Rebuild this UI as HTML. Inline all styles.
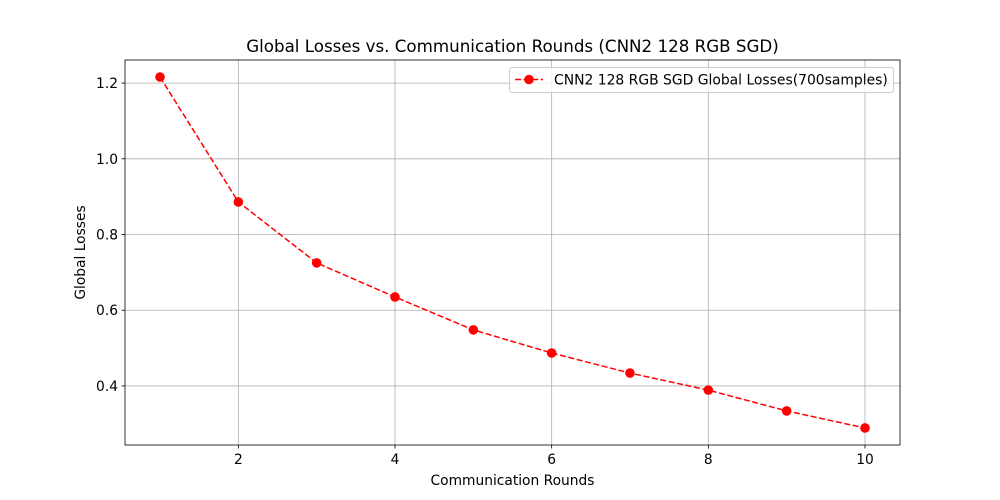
<!DOCTYPE html>
<html><head><meta charset="utf-8"><style>
body{margin:0;background:#fff;}
svg{display:block;font-family:"DejaVu Sans","Liberation Sans",sans-serif;}
</style></head><body>
<svg id="chart" width="1000" height="500" viewBox="0 0 1000 500">
<rect width="1000" height="500" fill="#fff"/>
<g id="grid"></g>
<g id="axes"></g>
<g id="series"></g>
<text x="512.5" y="52" text-anchor="middle" font-size="16.7">Global Losses vs. Communication Rounds (CNN2 128 RGB SGD)</text>
<text x="512.5" y="485" text-anchor="middle" font-size="13.8">Communication Rounds</text>
<text transform="translate(85,252.5) rotate(-90)" text-anchor="middle" font-size="13.8">Global Losses</text>
<g>
<rect x="509.5" y="67.5" width="384" height="25" rx="3" fill="#fff" fill-opacity="0.8" stroke="#ccc"/>
<line x1="515" y1="79.5" x2="543" y2="79.5" stroke="red" stroke-width="1.5" stroke-dasharray="6,2.6"/>
<circle cx="529" cy="79.5" r="4.8" fill="red"/>
<text x="554" y="84.5" font-size="13.9">CNN2 128 RGB SGD Global Losses(700samples)</text>
</g>
</svg>
<script>
const rounds=[1,2,3,4,5,6,7,8,9,10];
const losses=[1.216,0.886,0.725,0.635,0.548,0.487,0.434,0.389,0.334,0.289];
const xTicks=[2,4,6,8,10];
const yTicks=[0.4,0.6,0.8,1.0,1.2];
const L=125,R=900,T=60,B=445;
const x0=0.553,x1=10.447,y0=0.244,y1=1.261;
const sx=v=>L+(v-x0)/(x1-x0)*(R-L);
const sy=v=>B-(v-y0)/(y1-y0)*(B-T);
const NS="http://www.w3.org/2000/svg";
function mk(tag,attrs,parent){const e=document.createElementNS(NS,tag);for(const k in attrs)e.setAttribute(k,attrs[k]);parent.appendChild(e);return e;}
const grid=document.getElementById('grid'),axes=document.getElementById('axes'),series=document.getElementById('series');
xTicks.forEach(t=>{
 const X=sx(t);
 const g=mk('line',{x1:X,x2:X,y1:T,y2:B,stroke:'#b0b0b0','stroke-width':0.8},grid);
 
 
 const tk=mk('line',{x1:X,x2:X,y1:B,y2:B+3.5,stroke:'#000','stroke-width':0.8},axes);
 
 
 const tx=mk('text',{x:X,y:B+19,'text-anchor':'middle','font-size':13.8},axes);
 tx.textContent=String(t);
 
 
});
yTicks.forEach(t=>{
 const Y=sy(t);
 const g=mk('line',{x1:L,x2:R,y1:Y,y2:Y,stroke:'#b0b0b0','stroke-width':0.8},grid);
 
 
 const tk=mk('line',{x1:L-3.5,x2:L,y1:Y,y2:Y,stroke:'#000','stroke-width':0.8},axes);
 
 
 const tx=mk('text',{x:L-7,y:Y+5,'text-anchor':'end','font-size':13.8},axes);
 tx.textContent=t.toFixed(1);
 
 
});
const frame=mk('rect',{x:L,y:T,width:R-L,height:B-T,fill:'none',stroke:'#000','stroke-width':0.8},axes);


const pts=rounds.map((r,i)=>sx(r)+','+sy(losses[i])).join(' ');
const line=mk('polyline',{points:pts,fill:'none',stroke:'red','stroke-width':1.5,'stroke-dasharray':'6,2.6'},series);


rounds.forEach((r,i)=>{
 const c=mk('circle',{cx:sx(r),cy:sy(losses[i]),r:4.8,fill:'red'},series);
 
 
});
</script>
</body></html>
